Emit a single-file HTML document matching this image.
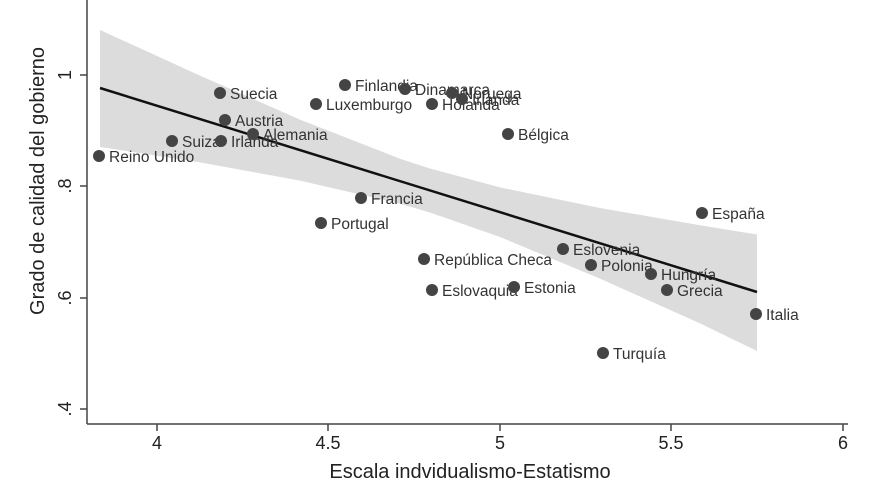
<!DOCTYPE html>
<html><head><meta charset="utf-8"><style>body{margin:0;background:#fff}svg text{font-family:"Liberation Sans",sans-serif;}</style></head>
<body>
<svg width="880" height="495" viewBox="0 0 880 495" xmlns="http://www.w3.org/2000/svg">
<rect width="880" height="495" fill="#fff"/>
<polygon fill="#dcdcdc" points="100,30 200,75.6 300,119.6 400,158.7 430,168.5 500,187.4 600,208 700,225.2 757,234.5 757,351 700,323.4 600,278.6 500,237 430,212.5 400,203.7 300,180.6 200,162.4 100,147"/>
<line x1="100" y1="88" x2="757" y2="292" stroke="#111" stroke-width="2.5"/>
<g stroke="#444" stroke-width="1.5">
<line x1="87" y1="0" x2="87" y2="424"/>
<line x1="87" y1="424" x2="848" y2="424"/>
<line x1="80" y1="75" x2="87" y2="75"/><line x1="80" y1="186" x2="87" y2="186"/><line x1="80" y1="298" x2="87" y2="298"/><line x1="80" y1="409" x2="87" y2="409"/>
<line x1="157" y1="424" x2="157" y2="431"/><line x1="328" y1="424" x2="328" y2="431"/><line x1="500" y1="424" x2="500" y2="431"/><line x1="671" y1="424" x2="671" y2="431"/><line x1="843" y1="424" x2="843" y2="431"/>
</g>
<g font-size="18" fill="#222" text-anchor="middle">
<text x="157" y="449">4</text><text x="328" y="449">4.5</text><text x="500" y="449">5</text><text x="671" y="449">5.5</text><text x="843" y="449">6</text>
<text x="470" y="478" font-size="20">Escala indvidualismo-Estatismo</text>
<text transform="translate(71,75) rotate(-90)">1</text>
<text transform="translate(71,186) rotate(-90)">.8</text>
<text transform="translate(71,298) rotate(-90)">.6</text>
<text transform="translate(71,409) rotate(-90)">.4</text>
<text transform="translate(44,181) rotate(-90)" font-size="20">Grado de calidad del gobierno</text>
</g>
<g font-size="15.5" fill="#333">
<circle cx="99" cy="156" r="6" fill="#444"/><text x="109" y="162">Reino Unido</text>
<circle cx="172" cy="141" r="6" fill="#444"/><text x="182" y="147">Suiza</text>
<circle cx="220" cy="93" r="6" fill="#444"/><text x="230" y="99">Suecia</text>
<circle cx="225" cy="120" r="6" fill="#444"/><text x="235" y="126">Austria</text>
<circle cx="221" cy="141" r="6" fill="#444"/><text x="231" y="147">Irlanda</text>
<circle cx="253" cy="134" r="6" fill="#444"/><text x="263" y="140">Alemania</text>
<circle cx="316" cy="104" r="6" fill="#444"/><text x="326" y="110">Luxemburgo</text>
<circle cx="345" cy="85" r="6" fill="#444"/><text x="355" y="91">Finlandia</text>
<circle cx="405" cy="89" r="6" fill="#444"/><text x="415" y="95">Dinamarca</text>
<circle cx="432" cy="104" r="6" fill="#444"/><text x="442" y="110">Holanda</text>
<circle cx="452" cy="93" r="6" fill="#444"/><text x="462" y="99">Noruega</text>
<circle cx="462" cy="99" r="6" fill="#444"/><text x="472" y="105">Irlanda</text>
<circle cx="508" cy="134" r="6" fill="#444"/><text x="518" y="140">Bélgica</text>
<circle cx="361" cy="198" r="6" fill="#444"/><text x="371" y="204">Francia</text>
<circle cx="321" cy="223" r="6" fill="#444"/><text x="331" y="229">Portugal</text>
<circle cx="424" cy="259" r="6" fill="#444"/><text x="434" y="265">República Checa</text>
<circle cx="432" cy="290" r="6" fill="#444"/><text x="442" y="296">Eslovaquia</text>
<circle cx="514" cy="287" r="6" fill="#444"/><text x="524" y="293">Estonia</text>
<circle cx="563" cy="249" r="6" fill="#444"/><text x="573" y="255">Eslovenia</text>
<circle cx="591" cy="265" r="6" fill="#444"/><text x="601" y="271">Polonia</text>
<circle cx="651" cy="274" r="6" fill="#444"/><text x="661" y="280">Hungría</text>
<circle cx="667" cy="290" r="6" fill="#444"/><text x="677" y="296">Grecia</text>
<circle cx="702" cy="213" r="6" fill="#444"/><text x="712" y="219">España</text>
<circle cx="756" cy="314" r="6" fill="#444"/><text x="766" y="320">Italia</text>
<circle cx="603" cy="353" r="6" fill="#444"/><text x="613" y="359">Turquía</text>
</g>
</svg>
</body></html>
